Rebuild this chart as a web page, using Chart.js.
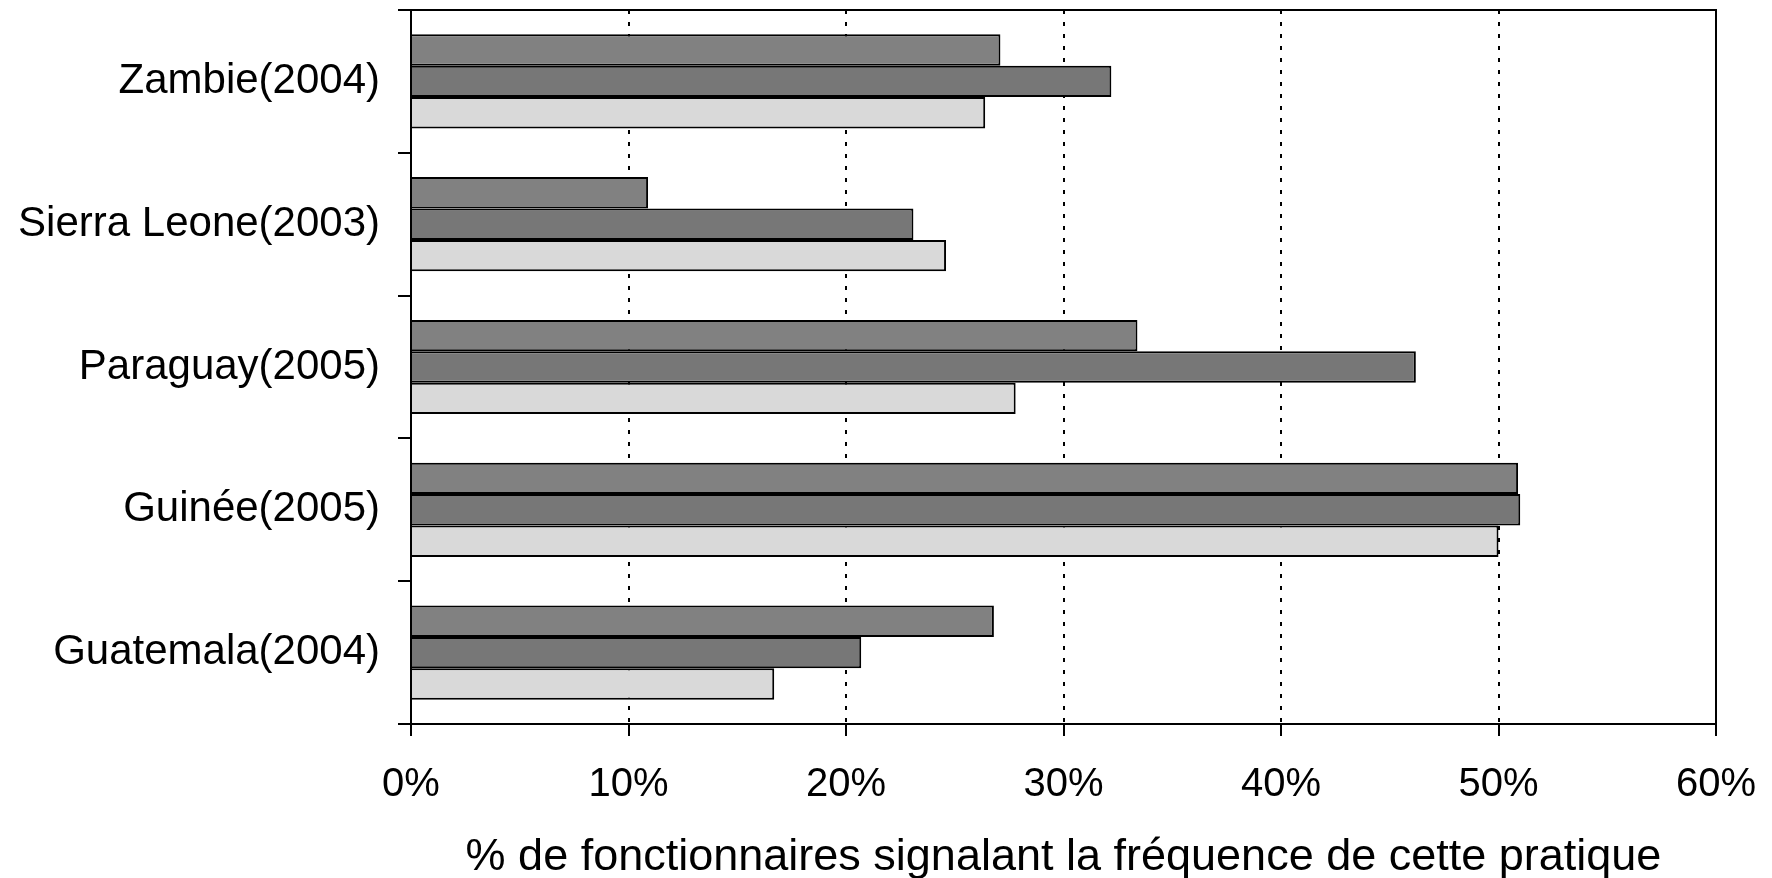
<!DOCTYPE html>
<html>
<head>
<meta charset="utf-8">
<script src="https://cdn.jsdelivr.net/npm/chart.js@4"></script>
<style>
  html, body { margin: 0; padding: 0; background: #fff; }
  #wrap { width: 1772px; height: 878px; }
</style>
</head>
<body>
<div id="wrap"><canvas id="chart" width="1772" height="878"></canvas></div>
<script>
// Values (percent)
const countries = ['Zambie(2004)', 'Sierra Leone(2003)', 'Paraguay(2005)', 'Guinée(2005)', 'Guatemala(2004)'];
const seriesA = [27.1, 10.9, 33.4, 50.9, 26.8];
const seriesB = [32.2, 23.1, 46.2, 51.0, 20.7];
const seriesC = [26.4, 24.6, 27.8, 50.0, 16.7];
const xTicks = [0, 10, 20, 30, 40, 50, 60];
const xTitle = '% de fonctionnaires signalant la fréquence de cette pratique';

const font = 'Liberation Sans, Arial, sans-serif';

// top and right frame of the plot area
const frame = {
    id: 'frame',
    afterDatasetsDraw(chart) {
        const { ctx, chartArea: a } = chart;
        ctx.save();
        ctx.strokeStyle = '#000';
        ctx.lineWidth = 2;
        ctx.beginPath();
        ctx.moveTo(a.left, a.top);
        ctx.lineTo(a.right, a.top);
        ctx.lineTo(a.right, a.bottom);
        ctx.stroke();
        ctx.restore();
    }
};

function bars(data, color) {
    return {
        data: data,
        backgroundColor: color,
        borderColor: '#000',
        borderWidth: 2,
        categoryPercentage: 0.66,
        barPercentage: 1
    };
}

new Chart(document.getElementById('chart'), {
    type: 'bar',
    data: {
        labels: countries,
        datasets: [
            bars(seriesA, '#818181'),
            bars(seriesB, '#777777'),
            bars(seriesC, '#d9d9d9')
        ]
    },
    plugins: [frame],
    options: {
        indexAxis: 'y',
        responsive: false,
        animation: false,
        layout: { padding: { top: 10, right: 56, bottom: 0, left: 0 } },
        plugins: {
            legend: { display: false },
            tooltip: { enabled: false }
        },
        scales: {
            x: {
                min: 0,
                max: 60,
                afterBuildTicks: scale => { scale.ticks = xTicks.map(v => ({ value: v })); },
                afterFit: scale => {
                    scale.height = 154;
                    scale.paddingLeft = 0;
                    scale.paddingRight = 0;
                },
                ticks: {
                    callback: v => v + '%',
                    color: '#000',
                    font: { family: font, size: 40 },
                    padding: 25,
                    maxRotation: 0
                },
                grid: {
                    color: '#000',
                    lineWidth: 2,
                    tickLength: 12,
                    tickBorderDash: []
                },
                border: { display: true, color: '#000', width: 2, dash: [4, 8] },
                title: {
                    display: true,
                    text: xTitle,
                    color: '#000',
                    font: { family: font, size: 45, lineHeight: 1.1 },
                    padding: { top: 0, bottom: -4 }
                }
            },
            y: {
                afterFit: scale => {
                    scale.width = 411;
                    scale.paddingTop = 0;
                    scale.paddingBottom = 0;
                },
                ticks: {
                    color: '#000',
                    font: { family: font, size: 42 },
                    padding: 18
                },
                grid: {
                    offset: true,
                    drawOnChartArea: false,
                    color: '#000',
                    lineWidth: 2,
                    tickLength: 13
                },
                border: { display: true, color: '#000', width: 2 }
            }
        }
    }
});
</script>
</body>
</html>
